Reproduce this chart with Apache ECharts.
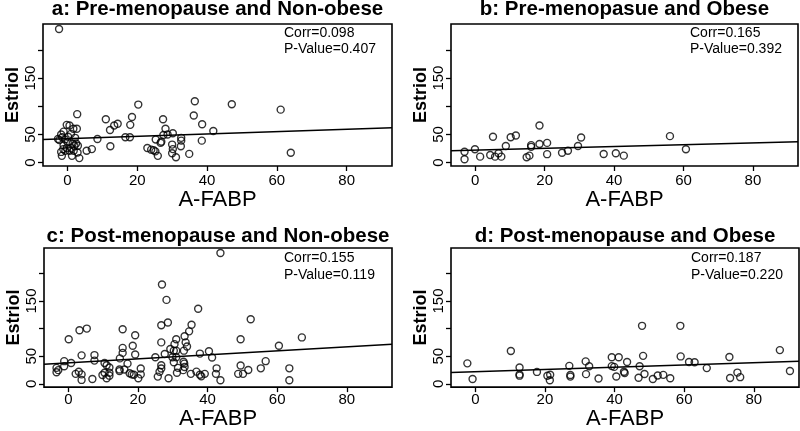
<!DOCTYPE html>
<html>
<head>
<meta charset="utf-8">
<script src="https://cdn.jsdelivr.net/npm/echarts@6/dist/echarts.min.js"></script>
<style>html,body{margin:0;padding:0;background:#fff}#c{width:800px;height:431px}</style>
</head>
<body>
<div id="c"></div>
<script>
// ---- data ----
const xTicks = [0, 20, 40, 60, 80];
const yTicks = [0, 50, 100, 150, 200];
const yTickLabels = [0, 50, 150];
const panelTitles = ['a: Pre-menopause and Non-obese', 'b: Pre-menopasue and Obese', 'c: Post-menopause and Non-obese', 'd: Post-menopause and Obese'];
const corrValues = ['0.098', '0.165', '0.155', '0.187'];
const pValues = ['0.407', '0.392', '0.119', '0.220'];
const fitIntercept = [42.5, 22.1, 37.9, 22.0];
const fitSlope = [0.21, 0.16, 0.364, 0.204];

const pointsA = [[-2.4,237],[2.8,86],[-0.2,67],[0.6,66],[-1.1,55],[-1.5,45],[-2.3,40],[-0.7,41],[1.7,60],[2.7,60],[1.0,51],[0.1,36],[1.5,34],[2.5,34],[-1.1,31],[-1.8,19],[-0.6,21],[0.6,21],[1.8,21],[-1.6,12],[1.3,12],[2.9,18],[3.4,8],[-2.7,42],[-1.8,50],[0.2,46],[2.0,30],[3.0,30],[-0.2,26],[1.0,26],[-1.2,24],[2.2,44],
[5.5,21],[7,24],[8.6,42],[11,77],[12.2,58],[13.4,66],[14.4,69],[12.3,29],[16.6,45],[17.9,45],[18,67],[18.5,81],[20.3,103],
[22.9,26],[24,23],[24.7,22],[25.2,20],[25.9,12],[25.3,41],[26.7,35],[27.4,77],[28.1,60],[26.9,37],[27.5,49],[28.7,50],[30.2,52],[30,32],[30.2,24],[30,16.5],[31.1,9.5],[32.6,44],[32.6,39],[32.5,29],[34.9,15.5],[36.5,109],[36.2,83.5],[38.6,68],[38.5,39],[41.8,56],[47.1,103.5],[61.1,94],[64,17.5]];

const pointsB = [[-3.1,19.4],[-3.1,6],[-0.1,23.6],[1.4,10.6],[4.3,13.6],[5.1,46],[5.7,10.6],[6.7,16.5],[7.5,10.6],[8.8,29.4],[10.2,45],[11.7,48],[14.8,9.5],[15.6,12.4],[16.1,31],[16.1,28],[18.5,66],[18.5,33],[20.7,35],[20.7,15],[25,17.6],[26.7,21],[29.6,29.4],[30.5,44.7],[37,15.3],[40.5,16.5],[42.8,12.4],[56.1,47],[60.7,23.6]];

const pointsC = [[-3.4,28.8],[-3.4,21],[-2.9,24.7],[-1.2,31.7],[-1.2,41],[0.8,37.6],[0.1,80.6],[3.2,97],[5.3,100],[3.8,51.5],[2.1,18],[3,21.8],[3.8,17],[3.8,7],[6.9,8.8],[7.5,52],[7.5,42],[9.8,16],[10.4,37.6],[11,33.5],[11.8,29.4],[10.4,20],[11.8,20],[11.8,14.7],[11,10],[14.8,46],[15.6,56],[15.6,65],[15.6,98.8],[19.2,88],[18.5,69],[19.2,53],[14.7,26],[14.7,23],[16.1,26],[17,36.5],[17.6,19],[18.2,17],[18.8,16.5],[20.1,10],[20.8,27.6],[20.8,17],
[25,48],[26.7,106],[28.6,111],[26.7,75],[26.9,180],[28.2,152],[27.7,54],[29.9,48],[31,48],[30.3,39],[29.3,63],[30.3,60],[31,60],[31,80.6],[30.5,71.8],[33.3,36.5],[26.7,33.5],[26.7,27.7],[26.2,21.7],[28.8,10],[25.7,13],[31.5,28.8],[33,24.7],[33.4,30.5],[31.2,20],[35.4,107],[34.7,95],[33.4,86],[33.7,75],[34.1,67.6],[33.2,60],[33.1,40],[37.3,136],[37.8,54.7],[40.4,59],[41.3,47.6],[35.2,18],[36.8,22],[37.8,16.5],[38.2,13.5],[39.2,18],[42.6,28],[42.4,18],[43.7,6.5],[43.7,237],
[49.5,80.6],[49.5,33],[48.8,18],[50.2,18],[51.7,25],[52.4,117],[55.3,28],[56.7,41],[60.5,69],[63.5,28],[63.5,6.5],[67.1,84]];

const pointsD = [[-2.3,37],[-0.8,8.8],[10.2,59.4],[12.7,29.4],[12.7,17],[12.7,14.7],[17.7,21.5],[20.7,14.5],[21.5,16.5],[21.4,6.5],[27,32.5],[27.3,16],[27.3,13],[31.7,40.6],[31.8,17.5],[32.7,31.8],[35.4,9.5],[39.2,48],[41.2,48],[39.2,32],[39.9,30.6],[40.5,13.3],[42.7,21.8],[42.9,19.6],[43.6,39.4],[47.2,31.8],[46.9,11],[47.9,105],[48.2,50.6],[48.6,17.6],[51,8.8],[52.4,15],[54,16.2],[56,10],[58.9,105],[59,49.6],[61.4,39.4],[63,39],[66.5,28.4],[73,48.4],[73.2,10.5],[75.3,20.3],[76.1,12],[87.5,61],[90.4,23.3]];

const allPoints = [pointsA, pointsB, pointsC, pointsD];

// ---- layout ----
const X_MIN = -7, X_MAX = 93, Y_MIN = -6, Y_MAX = 246;
const FONT = '"Liberation Sans", Arial, sans-serif';
const grids = [
  {left: 43, top: 24, width: 349, height: 142},
  {left: 451, top: 24, width: 347, height: 142},
  {left: 44, top: 248, width: 348, height: 144},
  {left: 451, top: 248, width: 348, height: 144}
];
const xLabelMargin = [7, 7, 5, 5];
const xNameGap = [19, 19, 15, 15];
const titleY = [9, 9, 236, 236];
const annotY = [[33, 49], [33, 49], [258, 275], [258, 275]];

const chart = echarts.init(document.getElementById('c'), null, {renderer: 'canvas'});
const option = {
  animation: false,
  backgroundColor: '#fff',
  grid: grids.map(g => Object.assign({show: true, borderColor: '#000', borderWidth: 1.6, backgroundColor: 'transparent', containLabel: false}, g)),
  xAxis: grids.map((g, i) => ({
    gridIndex: i, type: 'value', min: X_MIN, max: X_MAX,
    splitLine: {show: false}, axisLine: {show: false, onZero: false},
    axisTick: {show: true, length: 5, lineStyle: {color: '#000', width: 1.3}, customValues: xTicks},
    axisLabel: {color: '#000', fontSize: 15, fontFamily: FONT, margin: xLabelMargin[i], customValues: xTicks},
    name: 'A-FABP', nameLocation: 'middle', nameGap: xNameGap[i],
    nameTextStyle: {color: '#000', fontSize: 22, fontFamily: FONT}
  })),
  yAxis: grids.map((g, i) => ({
    gridIndex: i, type: 'value', min: Y_MIN, max: Y_MAX,
    splitLine: {show: false}, axisLine: {show: false, onZero: false},
    axisTick: {show: true, length: 5, lineStyle: {color: '#000', width: 1.3}, customValues: yTicks},
    axisLabel: {color: '#000', fontSize: 15, fontFamily: FONT, margin: 5, rotate: 90, customValues: yTickLabels},
    name: 'Estriol', nameLocation: 'middle', nameGap: 18,
    nameTextStyle: {color: '#000', fontSize: 18, fontWeight: 'bold', fontFamily: FONT}
  })),
  series: [],
  graphic: []
};

allPoints.forEach((pts, i) => {
  option.series.push({
    type: 'scatter', xAxisIndex: i, yAxisIndex: i, data: pts,
    symbol: 'circle', symbolSize: 7, silent: true,
    itemStyle: {color: 'rgba(0,0,0,0)', borderColor: '#000', borderWidth: 1.4}
  });
  option.series.push({
    type: 'line', xAxisIndex: i, yAxisIndex: i, silent: true, showSymbol: false,
    data: [[X_MIN, fitIntercept[i] + fitSlope[i] * X_MIN], [X_MAX, fitIntercept[i] + fitSlope[i] * X_MAX]],
    lineStyle: {color: '#000', width: 1.5}
  });
  const g = grids[i];
  option.graphic.push({
    type: 'text', x: g.left + g.width / 2, y: titleY[i],
    style: {text: panelTitles[i], fill: '#000', font: 'bold 20.5px ' + FONT, align: 'center', verticalAlign: 'middle'}
  });
  option.graphic.push({
    type: 'text', x: g.left + g.width - 108, y: annotY[i][0],
    style: {text: 'Corr=' + corrValues[i], fill: '#000', font: '14px ' + FONT, align: 'left', verticalAlign: 'middle'}
  });
  option.graphic.push({
    type: 'text', x: g.left + g.width - 108, y: annotY[i][1],
    style: {text: 'P-Value=' + pValues[i], fill: '#000', font: '14px ' + FONT, align: 'left', verticalAlign: 'middle'}
  });
});

chart.setOption(option);
</script>
</body>
</html>
